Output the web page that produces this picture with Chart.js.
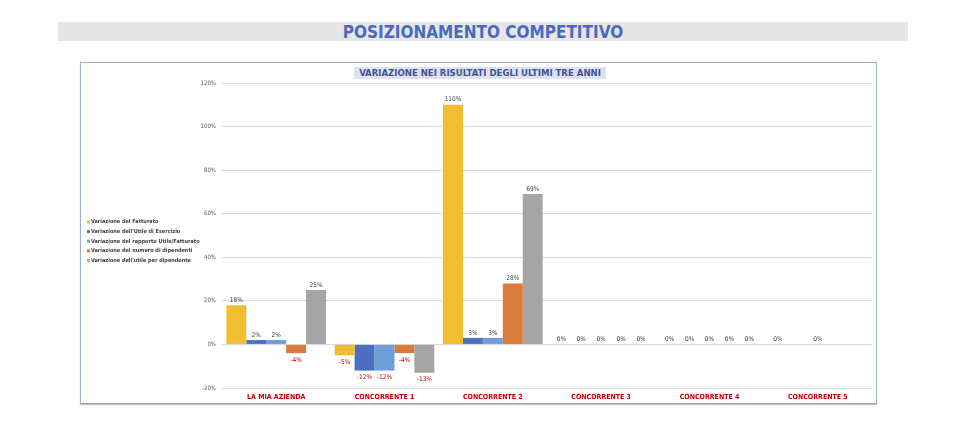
<!DOCTYPE html>
<html>
<head>
<meta charset="utf-8">
<script src="https://cdn.jsdelivr.net/npm/chart.js@4.4.1/dist/chart.umd.min.js"></script>
<style>
  body { margin: 0; background: #fff; width: 980px; height: 440px; position: relative; overflow: hidden; font-family: "DejaVu Sans Condensed", "DejaVu Sans", sans-serif; }
  #banner { position: absolute; left: 58px; top: 22px; width: 850px; height: 19px; background: #e7e6e6; }
  #banner span { position: absolute; left: 0; right: 0; top: 0; text-align: center; font-weight: bold; font-size: 17px; line-height: 20px; color: #4a6ac0; }
  #frame { position: absolute; left: 80px; top: 62px; width: 795px; height: 340px; border: 1px solid #9eadd0; border-bottom-color: #a0a0a0; box-shadow: 0 1px 1px #c8c8c8; }
  #ctitle { position: absolute; left: 273px; top: 4px; width: 252px; height: 12px; background: #dde1f1; text-align: center; font-weight: bold; font-size: 9.5px; line-height: 12px; color: #3f5491; z-index: 2; }
  #wrap { position: absolute; left: 0; top: 0; width: 795px; height: 340px; }
</style>
</head>
<body>
<div id="banner"><span>POSIZIONAMENTO COMPETITIVO</span></div>
<div id="frame">
  <div id="ctitle">VARIAZIONE NEI RISULTATI DEGLI ULTIMI TRE ANNI</div>
  <div id="wrap"><canvas id="chartCanv"></canvas></div>
</div>
<script>
// categories and series (percent values)
const categories = ['LA MIA AZIENDA', 'CONCORRENTE 1', 'CONCORRENTE 2', 'CONCORRENTE 3', 'CONCORRENTE 4', 'CONCORRENTE 5']
const seriesNames = [
  'Variazione del Fatturato',
  "Variazione dell'Utile di Esercizio",
  'Variazione del rapporto Utile/Fatturato',
  'Variazione del numero di dipendenti',
  "Variazione dell'utile per dipendente"
]
const fatturato = [18, -5, 110, 0, 0, 0]
const utileEsercizio = [2, -12, 3, 0, 0, null]
const rapportoUtile = [2, -12, 3, 0, 0, 0]
const numDipendenti = [-4, -4, 28, 0, 0, null]
const utilePerDip = [25, -13, 69, 0, 0, null]
const yTicks = [-20, 0, 20, 40, 60, 80, 100, 120]

const colors = ['#f0be2e', '#4a6fc3', '#6f9ed8', '#d97b3b', '#a5a5a5']
const allSeries = [fatturato, utileEsercizio, rapportoUtile, numDipendenti, utilePerDip]

const FONT = '"DejaVu Sans Condensed", "DejaVu Sans", sans-serif'

/* value labels over/under each bar */
const valueLabels = {
  id: 'valueLabels',
  afterDatasetsDraw(chart) {
    const ctx = chart.ctx
    ctx.save()
    ctx.font = '6.5px ' + FONT
    ctx.textAlign = 'center'
    ctx.textBaseline = 'middle'
    chart.data.datasets.forEach((ds, i) => {
      const meta = chart.getDatasetMeta(i)
      meta.data.forEach((bar, j) => {
        const v = ds.data[j]
        if (v == null) return
        if (v < 0) {
          ctx.fillStyle = '#c00000'
          ctx.fillText(v + '%', bar.x, bar.y + 7)
        } else {
          ctx.fillStyle = '#404040'
          ctx.fillText(v + '%', bar.x, bar.y - 5)
        }
      })
    })
    ctx.restore()
  }
}

/* small legend on the left side */
const sideLegend = {
  id: 'sideLegend',
  afterDraw(chart) {
    const ctx = chart.ctx
    ctx.save()
    ctx.font = 'bold 5.5px ' + FONT
    ctx.textBaseline = 'middle'
    ctx.textAlign = 'left'
    chart.data.datasets.forEach((ds, i) => {
      const y = 159 + i * 9.6
      ctx.fillStyle = ds.backgroundColor
      ctx.fillRect(6, y - 1.5, 3, 3)
      ctx.fillStyle = '#404040'
      ctx.fillText(ds.label, 10, y)
    })
    ctx.restore()
  }
}

const datasets = allSeries.map((d, i) => ({
  label: seriesNames[i],
  data: d,
  backgroundColor: colors[i],
  borderWidth: 0,
  categoryPercentage: 0.92,
  barPercentage: 1.0
}))

const chart = new Chart(document.getElementById('chartCanv'), {
  type: 'bar',
  data: { labels: categories, datasets: datasets },
  plugins: [valueLabels, sideLegend],
  options: {
    responsive: true,
    maintainAspectRatio: false,
    animation: false,
    layout: { padding: { top: 20, right: 4, left: 0, bottom: 0 } },
    plugins: {
      legend: { display: false },
      tooltip: { enabled: false }
    },
    scales: {
      x: {
        grid: { display: false, drawTicks: false },
        border: { display: false },
        ticks: {
          color: '#c00000',
          font: { family: FONT, size: 7, weight: 'bold' },
          padding: 5,
          maxRotation: 0
        },
        afterFit(scale) { scale.height = 15 }
      },
      y: {
        min: -20,
        max: 120,
        afterBuildTicks(scale) { scale.ticks = yTicks.map(v => ({ value: v })) },
        grid: { color: '#d9d9d9', drawTicks: false },
        border: { display: false },
        ticks: {
          color: '#595959',
          font: { family: FONT, size: 6 },
          padding: 6,
          callback: v => v + '%'
        },
        afterFit(scale) { scale.width = 141 }
      }
    }
  }
})
</script>
</body>
</html>
